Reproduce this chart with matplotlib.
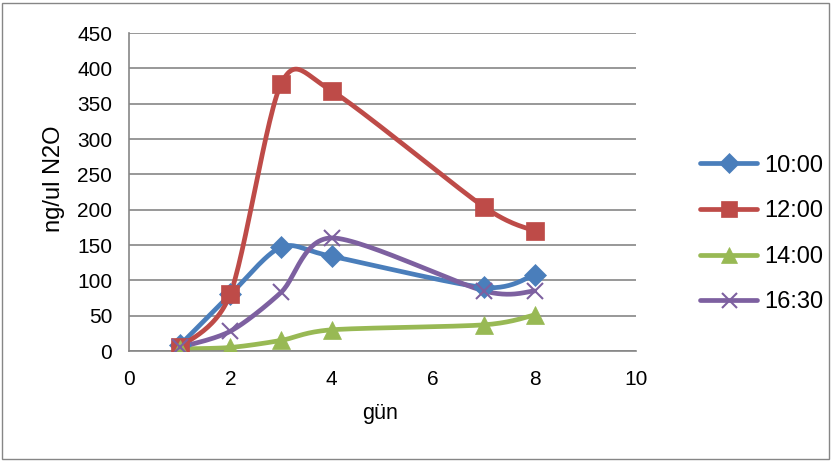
import matplotlib.pyplot as plt
import numpy as np

plt.rcParams['font.family'] = ['Liberation Sans', 'DejaVu Sans']

days = [1, 2, 3, 4, 7, 8]
s_1000 = [8, 80, 147, 134, 90, 108]
s_1200 = [5, 81, 378, 368, 204, 170]
s_1400 = [3, 5, 15, 30, 37, 51]
s_1630 = [5, 28, 83, 160, 85, 85]
labels = ['10:00', '12:00', '14:00', '16:30']
colors = ['#4a7ebb', '#be4b48', '#98b954', '#7d60a0']
markers = ['D', 's', '^', 'x']
msizes = [11, 13.5, 13, 12]


def smooth(x, y, n=30, k=0.14):
    # Excel-style smoothed line (bezier through the points)
    x = np.asarray(x, float)
    y = np.asarray(y, float)
    px = np.concatenate([[x[0]], x, [x[-1]]])
    py = np.concatenate([[y[0]], y, [y[-1]]])
    xs, ys = [], []
    t = np.linspace(0, 1, n)
    for i in range(1, len(px) - 2):
        p0, p1, p2, p3 = px[i - 1], px[i], px[i + 1], px[i + 2]
        q0, q1, q2, q3 = py[i - 1], py[i], py[i + 1], py[i + 2]
        c1x, c1y = p1 + (p2 - p0) * k, q1 + (q2 - q0) * k
        c2x, c2y = p2 - (p3 - p1) * k, q2 - (q3 - q1) * k
        bx = (1 - t)**3 * p1 + 3 * (1 - t)**2 * t * c1x + 3 * (1 - t) * t**2 * c2x + t**3 * p2
        by = (1 - t)**3 * q1 + 3 * (1 - t)**2 * t * c1y + 3 * (1 - t) * t**2 * c2y + t**3 * q2
        xs.extend(bx)
        ys.extend(by)
    return xs, ys


fig = plt.figure(figsize=(8.32, 4.61), dpi=100)
ax = fig.add_axes([129 / 832, 1 - 351 / 461, 507 / 832, 318 / 461])

series = [s_1000, s_1200, s_1400, s_1630]
handles = []
for vals, lab, c, m, ms in zip(series, labels, colors, markers, msizes):
    mew = 1.5 if m == 'x' else 0.5
    sx, sy = smooth(days, vals)
    ax.plot(sx, sy, color=c, linewidth=3.4, solid_capstyle='round', zorder=2)
    ax.plot(days, vals, linestyle='none', marker=m, color=c, markersize=ms,
            markeredgewidth=mew, zorder=3)
    h, = ax.plot([], [], color=c, linewidth=3.4, marker=m, markersize=ms * 0.9,
                 markeredgewidth=mew, solid_capstyle='round')
    handles.append(h)

ax.set_xlim(0, 10)
ax.set_ylim(0, 450)
ax.set_xticks(range(0, 11, 2))
ax.set_yticks(range(0, 451, 50))
ax.grid(axis='y', color='#868686', linewidth=1.2)
ax.set_axisbelow(True)
for side in ['top', 'right']:
    ax.spines[side].set_visible(False)
for side in ['left', 'bottom']:
    ax.spines[side].set_color('#868686')
    ax.spines[side].set_linewidth(1.2)
ax.tick_params(axis='both', length=0, labelsize=15, labelcolor='black')
ax.tick_params(axis='y', pad=12)
ax.tick_params(axis='x', pad=14)

fig.text(380 / 832, 1 - 413 / 461, 'gün', fontsize=15.5, ha='center', va='center')
fig.text(54 / 832, 1 - 179 / 461, 'ng/ul N2O', fontsize=17, ha='center', va='center',
         rotation=90)

fig.legend(handles, labels, loc='center left', bbox_to_anchor=(679 / 832, 1 - 234 / 461),
           frameon=False, fontsize=17, handlelength=2.4, labelspacing=1.0,
           handletextpad=0.33)

fig.patches.append(plt.Rectangle((2 / 832, 2 / 461), 827 / 832, 456 / 461,
                                 transform=fig.transFigure, fill=False,
                                 edgecolor='#868686', linewidth=1))

fig.savefig('out.png', dpi=100)
